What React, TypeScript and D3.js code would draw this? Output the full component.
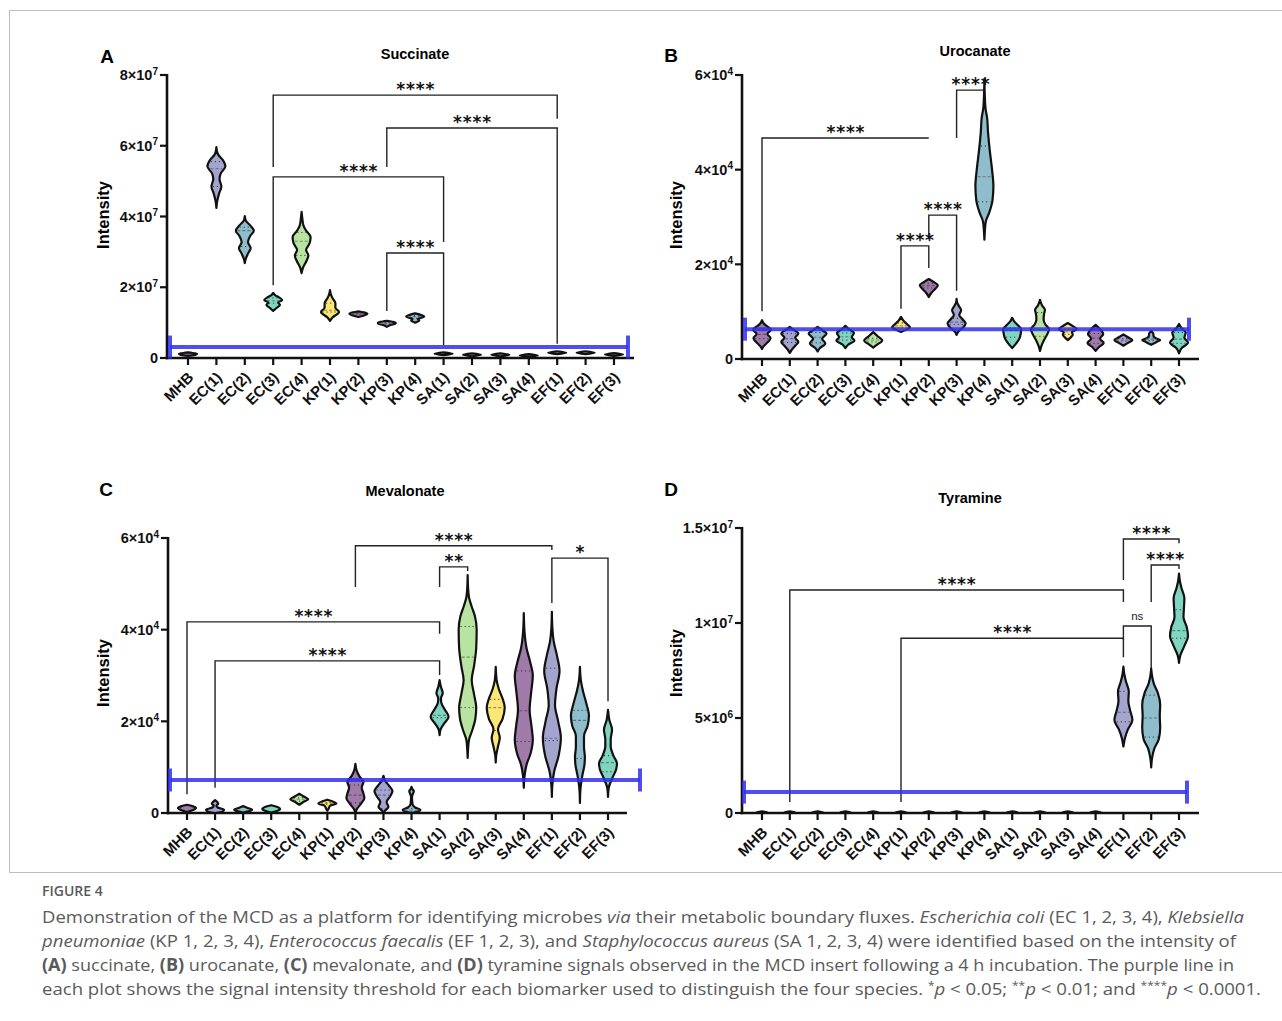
import React from 'react'
import * as d3 from 'd3'

const categories = ['MHB', 'EC(1)', 'EC(2)', 'EC(3)', 'EC(4)', 'KP(1)', 'KP(2)', 'KP(3)', 'KP(4)',
  'SA(1)', 'SA(2)', 'SA(3)', 'SA(4)', 'EF(1)', 'EF(2)', 'EF(3)']

const palette = ['#a07aa9', '#a4a5cf', '#8fbdcb', '#80d5c0', '#b8e3a0', '#fae776']

type Knot = [number, number]

// violin outlines: [value, relative half width]
// succinate in units of 1e7
const succinate: Knot[][] = [
  [[0.06, 0], [0.09, 0.8], [0.11, 1], [0.13, 0.8], [0.16, 0]],
  [[4.24, 0], [4.45, 0.1], [4.65, 0.3], [4.85, 0.55], [5.05, 0.35], [5.2, 0.45], [5.42, 1], [5.6, 0.7], [5.75, 0.2], [5.85, 0.06], [5.96, 0]],
  [[2.68, 0], [2.8, 0.1], [2.95, 0.35], [3.1, 0.65], [3.28, 0.35], [3.45, 0.6], [3.6, 1], [3.75, 0.6], [3.88, 0.12], [4.01, 0]],
  [[1.33, 0], [1.42, 0.4], [1.5, 0.75], [1.57, 0.55], [1.64, 1], [1.72, 0.6], [1.78, 0.2], [1.84, 0]],
  [[2.4, 0], [2.55, 0.15], [2.75, 0.55], [2.9, 0.75], [3.05, 0.5], [3.25, 0.9], [3.42, 1], [3.6, 0.5], [3.75, 0.2], [3.95, 0.08], [4.13, 0]],
  [[1.05, 0], [1.15, 0.3], [1.3, 1], [1.42, 0.6], [1.55, 0.6], [1.68, 0.3], [1.8, 0.1], [1.92, 0]],
  [[1.16, 0], [1.21, 0.7], [1.25, 1], [1.29, 0.6], [1.32, 0]],
  [[0.88, 0], [0.93, 0.4], [0.98, 1], [1.02, 0.7], [1.05, 0]],
  [[1.0, 0], [1.06, 0.45], [1.1, 0.3], [1.17, 1], [1.22, 0.6], [1.26, 0]],
  [[0.08, 0], [0.12, 1], [0.16, 0]],
  [[0.05, 0], [0.09, 1], [0.13, 0]],
  [[0.05, 0], [0.09, 1], [0.13, 0]],
  [[0.03, 0], [0.07, 1], [0.11, 0]],
  [[0.11, 0], [0.15, 1], [0.19, 0]],
  [[0.11, 0], [0.15, 1], [0.19, 0]],
  [[0.06, 0], [0.1, 1], [0.14, 0]],
]
// [q1, median, q3]
const succinateQuartiles: (number[] | null)[] = [
  null, [4.85, 5.35, 5.55], [3.15, 3.6, 3.7], [1.55, 1.62, 1.7], [2.9, 3.3, 3.55], [1.3, 1.35, 1.55],
  [1.24, 1.25, 1.27], [0.96, 0.98, 1.0], [1.12, 1.17, 1.2], null, null, null, null, null, null, null,
]

// urocanate in units of 1e3
const urocanate: Knot[][] = [
  [[2.1, 0], [2.6, 0.15], [3.3, 0.5], [4.4, 0.95], [5.3, 0.6], [6.2, 1], [7.0, 0.5], [7.6, 0.15], [8.2, 0]],
  [[1.3, 0], [1.9, 0.2], [2.8, 0.6], [3.6, 0.95], [4.5, 0.6], [5.4, 0.95], [6.1, 0.5], [6.8, 0]],
  [[1.6, 0], [2.3, 0.25], [3.3, 0.85], [4.3, 0.5], [5.4, 1], [6.1, 0.5], [6.8, 0]],
  [[2.3, 0], [3.0, 0.3], [3.9, 1], [4.6, 0.7], [5.5, 0.95], [6.3, 0.4], [7.0, 0]],
  [[2.4, 0], [3.0, 0.4], [3.9, 1], [4.8, 0.5], [5.7, 0]],
  [[5.7, 0], [6.1, 0.5], [6.7, 1], [7.3, 0.7], [7.9, 0.35], [8.9, 0]],
  [[13.1, 0], [14.0, 0.3], [14.8, 0.7], [15.6, 1], [16.2, 0.6], [16.9, 0]],
  [[5.1, 0], [5.8, 0.2], [6.6, 0.7], [7.5, 1], [8.5, 0.6], [9.3, 0.3], [10.3, 0.5], [11.2, 0.25], [12.0, 0.05], [12.7, 0]],
  [[25.2, 0], [27, 0.05], [29, 0.15], [31, 0.55], [33.5, 0.9], [36.5, 1], [40, 0.85], [44, 0.6], [48, 0.4], [51, 0.3], [53, 0.12], [56, 0.04], [59.2, 0]],
  [[2.3, 0], [3.2, 0.4], [4.3, 0.8], [5.4, 0.95], [6.3, 1], [7.2, 0.6], [8.0, 0.2], [8.7, 0]],
  [[1.7, 0], [2.7, 0.15], [4.0, 0.45], [5.2, 0.8], [6.3, 1], [7.3, 0.6], [8.3, 0.4], [9.5, 0.45], [10.4, 0.55], [11.4, 0.2], [12.5, 0]],
  [[4.0, 0], [4.6, 0.35], [5.2, 0.55], [5.7, 0.45], [6.3, 1], [6.9, 0.6], [7.6, 0]],
  [[1.7, 0], [2.5, 0.35], [3.4, 0.9], [4.3, 0.5], [5.3, 0.85], [6.2, 0.55], [7.2, 0]],
  [[2.8, 0], [3.4, 0.5], [4.0, 1], [4.6, 0.5], [5.2, 0]],
  [[3.0, 0], [3.6, 0.6], [4.0, 1], [4.4, 0.5], [4.9, 0.25], [5.3, 0.25], [5.9, 0]],
  [[1.2, 0], [2.2, 0.25], [3.5, 1], [4.5, 0.6], [5.6, 0.75], [6.5, 0.3], [7.4, 0]],
]
const urocanateQuartiles: (number[] | null)[] = [
  [4.3, 5.2, 6.3], [3.5, 4.3, 5.4], [3.4, 4.6, 5.6], [4.0, 4.7, 5.5], [3.6, 4.0, 4.4], [6.6, 7.0, 7.6],
  [15.0, 15.5, 16.0], [7.3, 7.8, 8.6], [33.2, 38.5, 45.0], [4.6, 6.0, 6.6], [4.8, 6.3, 9.8], [5.2, 5.7, 6.3],
  [3.3, 4.4, 5.4], [3.8, 4.0, 4.3], [3.9, 4.2, 4.5], [3.3, 4.2, 5.6],
]

// mevalonate in units of 1e3
const mevalonate: Knot[][] = [
  [[0.2, 0], [0.6, 0.6], [1.1, 1], [1.5, 0.6], [1.8, 0]],
  [[0, 0], [0.3, 0.8], [0.7, 1], [1.2, 0.3], [1.6, 0.15], [2.0, 0.35], [2.8, 0]],
  [[0.1, 0], [0.4, 0.7], [0.7, 1], [1.1, 0.5], [1.5, 0]],
  [[0.1, 0], [0.5, 0.7], [0.9, 1], [1.3, 0.7], [1.7, 0]],
  [[1.8, 0], [2.4, 0.45], [3.0, 1], [3.6, 0.5], [4.2, 0]],
  [[0.5, 0], [1.0, 0.15], [1.6, 0.3], [2.1, 1], [2.5, 0.6], [2.9, 0]],
  [[0, 0], [0.8, 0.15], [2.0, 0.6], [3.3, 1], [4.5, 0.85], [5.5, 0.7], [6.8, 0.9], [8.0, 0.45], [9.2, 0.15], [10.7, 0]],
  [[0, 0], [0.6, 0.2], [1.3, 0.55], [2.4, 0.35], [3.5, 0.7], [4.8, 1], [6.0, 0.6], [7.0, 0.2], [8.1, 0]],
  [[0, 0], [0.3, 0.7], [0.7, 1], [1.2, 0.4], [2.0, 0.1], [3.5, 0.05], [4.4, 0.2], [4.8, 0.25], [5.2, 0.1], [5.7, 0]],
  [[17.0, 0], [18.2, 0.1], [19.5, 0.5], [21.0, 1], [22.5, 0.6], [24, 0.2], [25, 0.15], [26.2, 0.35], [27.5, 0.15], [29, 0]],
  [[12.0, 0], [14, 0.05], [16, 0.15], [18, 0.5], [20.5, 0.85], [23, 0.95], [26, 0.7], [29, 0.45], [32, 0.7], [36, 0.95], [40, 1], [43, 0.8], [45, 0.45], [47, 0.15], [49, 0.05], [51.9, 0]],
  [[11, 0], [12.5, 0.05], [14.5, 0.25], [16.4, 0.45], [18.3, 0.25], [20.5, 0.75], [23, 1], [25, 0.75], [27, 0.35], [29, 0.1], [31.9, 0]],
  [[5.5, 0], [8, 0.08], [10.5, 0.3], [13, 0.75], [16, 1], [19, 0.85], [22.5, 0.65], [26, 0.8], [30, 1], [33, 0.7], [36, 0.3], [39, 0.1], [43.6, 0]],
  [[3.5, 0], [6, 0.05], [9, 0.25], [12.5, 0.75], [16.4, 1], [20, 0.7], [23.5, 0.35], [27, 0.5], [31, 0.85], [34.5, 0.55], [37.5, 0.2], [40.5, 0.05], [43.9, 0]],
  [[2.2, 0], [5, 0.05], [8, 0.25], [10.5, 0.5], [12.2, 0.55], [14.5, 0.45], [16.8, 0.45], [19, 0.85], [21.2, 1], [24, 0.7], [26.5, 0.35], [29, 0.1], [31.9, 0]],
  [[3.5, 0], [5.5, 0.08], [7.5, 0.45], [9.5, 0.9], [10.8, 1], [12.5, 0.6], [14.5, 0.3], [16, 0.3], [18.2, 0.45], [20.3, 0.15], [22.5, 0]],
]
const mevalonateQuartiles: (number[] | null)[] = [
  null, null, null, null, [2.6, 3.0, 3.3], [1.9, 2.1, 2.3], [2.2, 3.9, 6.1], [1.0, 3.9, 5.0], [0.3, 0.6, 1.0],
  [20.8, 21.3, 24.5], [23, 34, 40.7], [18, 23, 24.8], [15.6, 22.3, 31], [15.8, 16.3, 31.6], [11.9, 20.2, 22.4], [9.0, 11.0, 12.5],
]

// tyramine in units of 1e6
const tyramine: Knot[][] = [
  ...Array.from({ length: 13 }, (): Knot[] => [[0, 0], [0.04, 0.6], [0.09, 0]]),
  [[3.5, 0], [3.9, 0.15], [4.4, 0.5], [4.9, 1], [5.4, 0.75], [5.9, 0.55], [6.4, 0.6], [6.9, 0.3], [7.3, 0.1], [7.7, 0]],
  [[2.4, 0], [2.9, 0.1], [3.4, 0.35], [3.9, 0.85], [4.5, 1], [5.1, 0.95], [5.7, 1], [6.3, 0.75], [6.8, 0.3], [7.2, 0.1], [7.6, 0]],
  [[7.9, 0], [8.3, 0.15], [8.8, 0.6], [9.3, 1], [9.8, 0.85], [10.3, 0.5], [10.8, 0.55], [11.3, 0.6], [11.8, 0.3], [12.2, 0.1], [12.6, 0]],
]
const tyramineQuartiles: (number[] | null)[] = [
  ...Array.from({ length: 13 }, () => null),
  [4.8, 5.3, 6.4], [4.0, 5.0, 6.2], [9.2, 9.6, 10.7],
]

// y ticks (panel units) and their labels
const succinateTicks = [0, 2, 4, 6, 8]
const succinateLabels = ['0', '2×10^7', '4×10^7', '6×10^7', '8×10^7']
const urocanateTicks = [0, 20, 40, 60]
const urocanateLabels = ['0', '2×10^4', '4×10^4', '6×10^4']
const mevalonateTicks = [0, 20, 40, 60]
const mevalonateLabels = ['0', '2×10^4', '4×10^4', '6×10^4']
const tyramineTicks = [0, 5, 10, 15]
const tyramineLabels = ['0', '5×10^6', '1×10^7', '1.5×10^7']

// threshold (purple/blue line) per biomarker, panel units
const thresholds = { succinate: 0.31, urocanate: 6.3, mevalonate: 7.2, tyramine: 1.1 }

type Bracket = { a: string; b: string; top: number; la: number; lb: number; text: string }

const succinateBrackets: Bracket[] = [
  { a: 'EC(3)', b: 'EF(1)', top: 7.43, la: 5.4, lb: 6.76, text: '****' },
  { a: 'KP(3)', b: 'EF(1)', top: 6.5, la: 5.4, lb: 0.4, text: '****' },
  { a: 'EC(3)', b: 'SA(1)', top: 5.12, la: 2.06, lb: 3.28, text: '****' },
  { a: 'KP(3)', b: 'SA(1)', top: 2.97, la: 1.33, lb: 0.37, text: '****' },
]
const urocanateBrackets: Bracket[] = [
  { a: 'MHB', b: 'KP(2)', top: 46.7, la: 10.1, lb: 46.7, text: '****' },
  { a: 'KP(3)', b: 'KP(4)', top: 56.8, la: 46.7, lb: 55.6, text: '****' },
  { a: 'KP(2)', b: 'KP(3)', top: 30.4, la: 25.3, lb: 14.4, text: '****' },
  { a: 'KP(1)', b: 'KP(2)', top: 23.9, la: 10.6, lb: 19.2, text: '****' },
]
const mevalonateBrackets: Bracket[] = [
  { a: 'KP(2)', b: 'EF(1)', top: 58.3, la: 49.3, lb: 57.4, text: '****' },
  { a: 'SA(1)', b: 'SA(2)', top: 53.7, la: 49.3, lb: 52.8, text: '**' },
  { a: 'EF(1)', b: 'EF(3)', top: 55.6, la: 45.8, lb: 24.4, text: '*' },
  { a: 'MHB', b: 'SA(1)', top: 41.7, la: 4.1, lb: 39.1, text: '****' },
  { a: 'EC(1)', b: 'SA(1)', top: 33.2, la: 5.5, lb: 30.1, text: '****' },
]
const tyramineBrackets: Bracket[] = [
  { a: 'EF(1)', b: 'EF(3)', top: 14.42, la: 12.26, lb: 14.2, text: '****' },
  { a: 'EF(2)', b: 'EF(3)', top: 13.05, la: 11.1, lb: 12.84, text: '****' },
  { a: 'EC(1)', b: 'EF(1)', top: 11.74, la: 0.58, lb: 11.1, text: '****' },
  { a: 'EF(1)', b: 'EF(2)', top: 9.84, la: 9.1, lb: 7.6, text: 'ns' },
  { a: 'KP(1)', b: 'EF(1)', top: 9.2, la: 0.58, lb: 8.2, text: '****' },
]

const FONT = '"Liberation Sans", Arial, Helvetica, sans-serif'
const STAR_FONT = '"DejaVu Sans", sans-serif'
const HALF = 9

const Violin = ({ cx, knots, q, y, color }: any) => {
  const area = d3.area<Knot>()
    .y(d => y(d[0]))
    .x0(d => cx - d[1] * HALF)
    .x1(d => cx + d[1] * HALF)
    .curve(d3.curveMonotoneY)
  const widthAt = d3.scaleLinear().domain(knots.map((d: Knot) => d[0])).range(knots.map((d: Knot) => d[1])).clamp(true)
  const seg = (v: number) => {
    const w = widthAt(v) * HALF - 1.5
    return [cx - w, cx + w]
  }
  const dark = d3.color(color)!.darker(1.3).formatHex()
  return (
    <g>
      <path d={area(knots) || ''} fill={color} stroke="#111" strokeWidth={2.2} strokeLinejoin="round" />
      {q && [q[0], q[2]].map((v: number, i: number) => {
        const [a, b] = seg(v)
        return <line key={i} x1={a} x2={b} y1={y(v)} y2={y(v)} stroke="#222" strokeWidth={1} strokeDasharray="1 3" />
      })}
      {q && (() => {
        const [a, b] = seg(q[1])
        return <line x1={a} x2={b} y1={y(q[1])} y2={y(q[1])} stroke={dark} strokeWidth={1.1} strokeDasharray="3 2" />
      })()}
    </g>
  )
}

const TickLabel = ({ label, x, y }: any) => {
  const [base, sup] = label.split('^')
  return (
    <text x={x} y={y} dy="0.36em" textAnchor="end" fontFamily={FONT} fontWeight="bold" fontSize={14.5} fill="#111">
      {base}
      {sup && <tspan fontSize={10} dy="-0.55em">{sup}</tspan>}
    </text>
  )
}

const Panel = ({ p }: any) => {
  const y = d3.scaleLinear().domain([0, p.yMax]).range([p.yBottom, p.yTop])
  const x = d3.scalePoint<string>().domain(categories).range([p.xFirst, p.xLast])
  const ty = y(p.threshold)
  return (
    <g>
      <text x={p.letterX} y={p.letterY} fontFamily={FONT} fontWeight="bold" fontSize={19} dy="0.36em" textAnchor="middle">{p.letter}</text>
      <text x={p.titleX} y={p.titleY} fontFamily={FONT} fontWeight="bold" fontSize={14.5} dy="0.36em" textAnchor="middle">{p.title}</text>
      <text transform={`translate(${p.yTitleX},${p.yTitleY}) rotate(-90)`} fontFamily={FONT} fontWeight="bold" fontSize={16.5}
        dy="0.36em" textAnchor="middle">Intensity</text>

      {/* axes */}
      <line x1={p.axisX} x2={p.axisX} y1={p.yTop - 1} y2={p.yBottom + 1.2} stroke="#111" strokeWidth={2.6} />
      <line x1={p.axisX - 1.3} x2={p.xEnd} y1={p.yBottom} y2={p.yBottom} stroke="#111" strokeWidth={2.6} />
      {p.ticks.map((t: number, i: number) => (
        <g key={t}>
          <line x1={p.axisX - 7} x2={p.axisX} y1={y(t)} y2={y(t)} stroke="#111" strokeWidth={2.2} />
          <TickLabel label={p.labels[i]} x={p.axisX - 9} y={y(t)} />
        </g>
      ))}
      {categories.map(c => (
        <g key={c}>
          <line x1={x(c)} x2={x(c)} y1={p.yBottom} y2={p.yBottom + 7} stroke="#111" strokeWidth={2.2} />
          <text transform={`translate(${x(c)! - 1},${p.yBottom + 13}) rotate(-45)`} textAnchor="end" dy="0.7em"
            fontFamily={FONT} fontWeight="bold" fontSize={15} fill="#111">{c}</text>
        </g>
      ))}

      {/* significance brackets */}
      {p.brackets.map((b: Bracket, i: number) => {
        const x1 = x(b.a)!, x2 = x(b.b)!
        const yt = y(b.top)
        return (
          <g key={i}>
            <path d={`M${x1},${y(b.la)}V${yt}H${x2}V${y(b.lb)}`} fill="none" stroke="#222" strokeWidth={1.4} />
            {b.text === 'ns'
              ? <text x={(x1 + x2) / 2} y={yt - 6} textAnchor="middle" fontFamily={FONT} fontSize={11.5} fill="#222">ns</text>
              : <text x={(x1 + x2) / 2 + 0.5} y={yt} textAnchor="middle" fontFamily={STAR_FONT} fontWeight="bold" fontSize={17}
                letterSpacing={0.8} fill="#111">{b.text}</text>}
          </g>
        )
      })}

      {/* violins */}
      {categories.map((c, i) => (
        <Violin key={c} cx={x(c)} knots={p.violins[i]} q={p.quartiles[i]} y={y} color={palette[i % palette.length]} />
      ))}

      {/* threshold line */}
      <g stroke="#2f2ff0" strokeOpacity={0.85} strokeWidth={4}>
        <line x1={p.capL} x2={p.capR} y1={ty} y2={ty} />
        <line x1={p.capL} x2={p.capL} y1={ty - 11.5} y2={ty + 11.5} />
        <line x1={p.capR} x2={p.capR} y1={ty - 11.5} y2={ty + 11.5} />
      </g>
    </g>
  )
}

const panels = [
  {
    letter: 'A', letterX: 107, letterY: 56, title: 'Succinate', titleX: 415, titleY: 54, yTitleX: 103, yTitleY: 215,
    axisX: 167, xFirst: 188, xLast: 614, xEnd: 634, yBottom: 358, yTop: 75, yMax: 8,
    ticks: succinateTicks, labels: succinateLabels, violins: succinate, quartiles: succinateQuartiles,
    threshold: thresholds.succinate, capL: 170, capR: 628, brackets: succinateBrackets,
  },
  {
    letter: 'B', letterX: 671, letterY: 55, title: 'Urocanate', titleX: 975, titleY: 51, yTitleX: 676, yTitleY: 215,
    axisX: 742, xFirst: 762, xLast: 1179, xEnd: 1199, yBottom: 359, yTop: 75, yMax: 60,
    ticks: urocanateTicks, labels: urocanateLabels, violins: urocanate, quartiles: urocanateQuartiles,
    threshold: thresholds.urocanate, capL: 745, capR: 1189, brackets: urocanateBrackets,
  },
  {
    letter: 'C', letterX: 106, letterY: 489, title: 'Mevalonate', titleX: 405, titleY: 491, yTitleX: 103, yTitleY: 673,
    axisX: 168, xFirst: 187, xLast: 608, xEnd: 627, yBottom: 813, yTop: 538, yMax: 60,
    ticks: mevalonateTicks, labels: mevalonateLabels, violins: mevalonate, quartiles: mevalonateQuartiles,
    threshold: thresholds.mevalonate, capL: 170, capR: 640, brackets: mevalonateBrackets,
  },
  {
    letter: 'D', letterX: 671, letterY: 489, title: 'Tyramine', titleX: 970, titleY: 498, yTitleX: 676, yTitleY: 663,
    axisX: 742, xFirst: 762, xLast: 1179, xEnd: 1199, yBottom: 813, yTop: 528, yMax: 15,
    ticks: tyramineTicks, labels: tyramineLabels, violins: tyramine, quartiles: tyramineQuartiles,
    threshold: thresholds.tyramine, capL: 744, capR: 1187, brackets: tyramineBrackets,
  },
]

const CAP = '"Open Sans", "Noto Sans", sans-serif'

const Caption = () => {
  const common = { x: 42, fontFamily: CAP, fontSize: 17, fill: '#5a5a5a', lengthAdjust: 'spacingAndGlyphs' as const }
  const Star = ({ s }: { s: string }) => (
    <>
      <tspan fontSize={11} dy={-6}>{s}</tspan>
      <tspan dy={6} fontStyle="italic">p</tspan>
    </>
  )
  return (
    <g>
      <text x={42} y={896} fontFamily={CAP} fontSize={14} fontWeight={600} fill="#5a5a5a">FIGURE 4</text>
      <text {...common} y={923} textLength={1202}>
        Demonstration of the MCD as a platform for identifying microbes <tspan fontStyle="italic">via</tspan> their metabolic boundary fluxes. <tspan fontStyle="italic">Escherichia coli</tspan> (EC 1, 2, 3, 4), <tspan fontStyle="italic">Klebsiella</tspan>
      </text>
      <text {...common} y={947} textLength={1194}>
        <tspan fontStyle="italic">pneumoniae</tspan> (KP 1, 2, 3, 4), <tspan fontStyle="italic">Enterococcus faecalis</tspan> (EF 1, 2, 3), and <tspan fontStyle="italic">Staphylococcus aureus</tspan> (SA 1, 2, 3, 4) were identified based on the intensity of
      </text>
      <text {...common} y={971} textLength={1192}>
        <tspan fontWeight="bold">(A)</tspan> succinate, <tspan fontWeight="bold">(B)</tspan> urocanate, <tspan fontWeight="bold">(C)</tspan> mevalonate, and <tspan fontWeight="bold">(D)</tspan> tyramine signals observed in the MCD insert following a 4 h incubation. The purple line in
      </text>
      <text {...common} y={995} textLength={1219}>
        each plot shows the signal intensity threshold for each biomarker used to distinguish the four species. <Star s="*" /> {'<'} 0.05; <Star s="**" /> {'<'} 0.01; and <Star s="****" /> {'<'} 0.0001.
      </text>
    </g>
  )
}

export default function App() {
  return (
    <svg width={1282} height={1021} style={{ position: 'absolute', left: 0, top: 0, background: '#fff' }}>
      <rect x={9.5} y={10.5} width={1290} height={862} fill="none" stroke="#bdbdbd" strokeWidth={1} />
      {panels.map(p => <Panel key={p.letter} p={p} />)}
      <Caption />
    </svg>
  )
}
